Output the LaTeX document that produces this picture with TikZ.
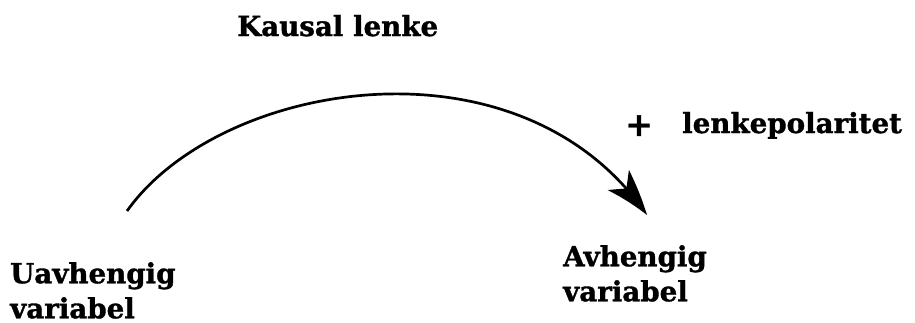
\documentclass[tikz,border=0pt]{standalone}
\usepackage{fontspec}
\setmainfont{DejaVu Serif}[BoldFeatures={FakeBold=1.2}]
\usetikzlibrary{arrows.meta,bending}
\begin{document}
\begin{tikzpicture}[x=1pt,y=-1pt,
    lbl/.style={font=\bfseries\fontsize{27.7}{35}\selectfont, inner sep=0pt, align=left},
    link/.style={line width=2.7pt, -{Stealth[length=46pt,width=29pt,inset=12pt,bend]}}]
  \useasboundingbox (0,0) rectangle (915,322);
  % labels
  \node[lbl, anchor=base west] (title) at (237,36) {Kausal lenke};
  \node[lbl, font=\bfseries\fontsize{33}{35}\selectfont, anchor=base west] (plus) at (625,136) {+};
  \node[lbl, anchor=base west] (pol) at (682,133) {lenkepolaritet};
  \node[lbl, anchor=north west] (cause) at (10,262) {Uavhengig\\variabel};
  \node[lbl, anchor=north west] (effect) at (563,245) {Avhengig\\variabel};
  % causal link
  \coordinate (from) at (127,211);
  \coordinate (to) at (647,215);
  \draw[link] (from) .. controls (220,80) and (520,30) .. (to);
\end{tikzpicture}
\end{document}
